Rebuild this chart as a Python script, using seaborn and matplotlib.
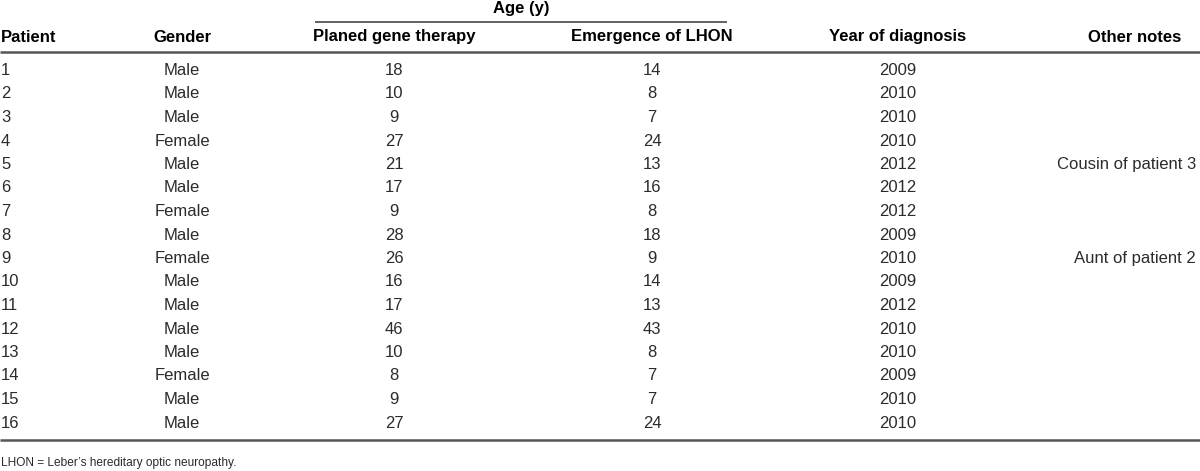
import matplotlib
matplotlib.use("Agg")
import matplotlib.pyplot as plt
from matplotlib import font_manager
import seaborn as sns
import pandas as pd

patients = [str(i) for i in range(1, 17)]
genders = ["Male", "Male", "Male", "Female", "Male", "Male", "Female", "Male",
           "Female", "Male", "Male", "Male", "Male", "Female", "Male", "Male"]
age_therapy = [18, 10, 9, 27, 21, 17, 9, 28, 26, 16, 17, 46, 10, 8, 9, 27]
age_emergence = [14, 8, 7, 24, 13, 16, 8, 18, 9, 14, 13, 43, 8, 7, 7, 24]
year_diagnosis = [2009, 2010, 2010, 2010, 2012, 2012, 2012, 2009, 2010, 2009,
                  2012, 2010, 2010, 2009, 2010, 2010]
other_notes = ["", "", "", "", "Cousin of patient 3", "", "", "", "Aunt of patient 2",
               "", "", "", "", "", "", ""]
column_headers = ["Patient", "Gender", "Planed gene therapy", "Emergence of LHON",
                  "Year of diagnosis", "Other notes"]
group_header = "Age (y)"
footnote = "LHON = Leber\u2019s hereditary optic neuropathy."

df = pd.DataFrame({
    column_headers[0]: patients,
    column_headers[1]: genders,
    column_headers[2]: age_therapy,
    column_headers[3]: age_emergence,
    column_headers[4]: year_diagnosis,
    column_headers[5]: other_notes,
})

sns.set_theme(style="white")
names = {f.name for f in font_manager.fontManager.ttflist}
fam = "Liberation Sans Narrow" if "Liberation Sans Narrow" in names else "Liberation Sans"
plt.rcParams["font.family"] = [fam, "DejaVu Sans"]

W, H = 1200, 471
fig = plt.figure(figsize=(W / 100, H / 100), dpi=100)
ax = fig.add_axes([0, 0, 1, 1])
ax.set_xlim(0, W)
ax.set_ylim(H, 0)
ax.axis("off")

fs = 12
body_color = "#2b2b2b"
line_color = "#555555"

# column anchor x positions and alignments (header / body)
head_x = [1, 182, 394, 652, 898, 1135]
head_ha = ["left", "center", "center", "center", "center", "center"]
body_x = [1, 182, 394, 652, 898, 1196]
body_ha = ["left", "center", "center", "center", "center", "right"]

# group header
ax.text(521, 8, group_header, ha="center", va="center", fontsize=fs,
        fontweight="bold", color="black")
ax.plot([315, 727], [22, 22], color=line_color, lw=1.3, solid_capstyle="butt")

# column headers
for x, ha, name in zip(head_x, head_ha, column_headers):
    ax.text(x, 37, name, ha=ha, va="center", fontsize=fs, fontweight="bold", color="black")
ax.plot([0, W], [52, 52], color=line_color, lw=1.8, solid_capstyle="butt")

row_y0, row_dy = 70.5, 23.5
for i, row in df.iterrows():
    y = row_y0 + i * row_dy
    for x, ha, name in zip(body_x, body_ha, column_headers):
        val = str(row[name])
        if val:
            ax.text(x, y, val, ha=ha, va="center", fontsize=fs, color=body_color)

ax.plot([0, W], [440, 440], color=line_color, lw=1.8, solid_capstyle="butt")
ax.text(1, 463, footnote, ha="left", va="center", fontsize=8.6, color=body_color)

fig.savefig("out.png", dpi=100)
